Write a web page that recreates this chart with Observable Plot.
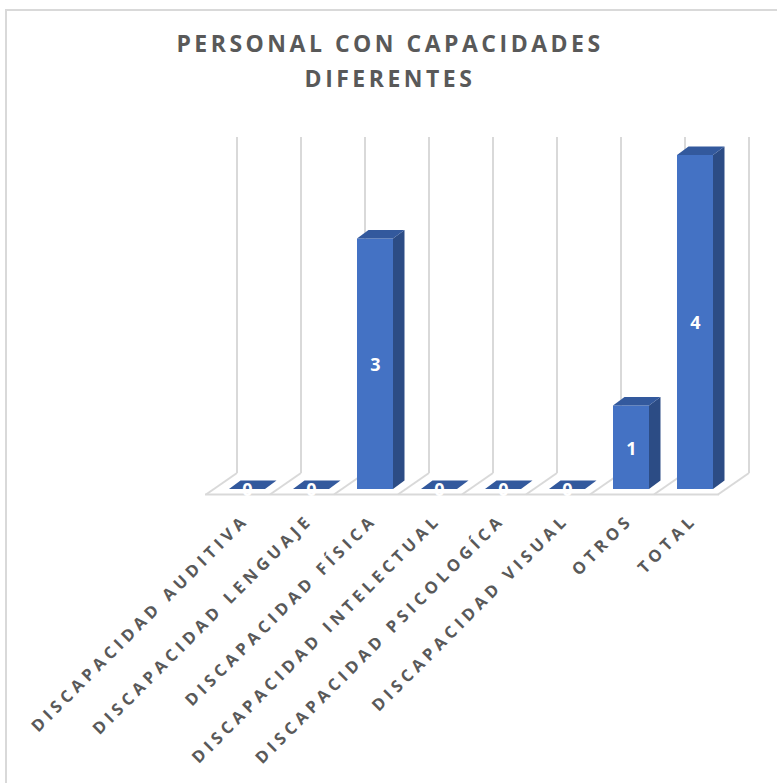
<!DOCTYPE html>
<html>
<head>
<meta charset="utf-8">
<script src="https://cdn.jsdelivr.net/npm/d3@7"></script>
<script src="https://cdn.jsdelivr.net/npm/@observablehq/plot@0.6"></script>
<style>
  html, body { margin: 0; padding: 0; background: #fff; overflow: hidden; }
  #wrap { position: relative; width: 777px; height: 783px; overflow: hidden; }
  #border { position: absolute; left: 5px; top: 9px; width: 900px; height: 900px;
            border-left: 2px solid #d9d9d9; border-top: 2px solid #d9d9d9; }
  #title { position: absolute; left: 0; top: 26px; width: 777px; text-align: center;
           font-family: "Open Sans", sans-serif; font-weight: 700; font-size: 23px;
           line-height: 35px; letter-spacing: 3.5px; color: #595959; padding-left: 3px; box-sizing: border-box; }
  #chart { position: absolute; left: 0; top: 0; }
  #chart g[aria-label="x-axis tick label"] text {
    letter-spacing: 4.5px !important; font-size: 16.5px !important; font-weight: 700 !important;
    font-family: "Open Sans", sans-serif !important; fill: #595959;
  }
</style>
</head>
<body>
<div id="wrap">
  <div id="border"></div>
  <div id="chart"></div>
  <div id="title">PERSONAL CON CAPACIDADES<br>DIFERENTES</div>
</div>
<script>
const titleLines = ["PERSONAL CON CAPACIDADES", "DIFERENTES"];
const categories = [
  "DISCAPACIDAD AUDITIVA",
  "DISCAPACIDAD LENGUAJE",
  "DISCAPACIDAD FÍSICA",
  "DISCAPACIDAD INTELECTUAL",
  "DISCAPACIDAD PSICOLOGÍCA",
  "DISCAPACIDAD VISUAL",
  "OTROS",
  "TOTAL"
];
const values = [0, 0, 3, 0, 0, 0, 1, 4];
const data = categories.map((c, i) => ({category: c, value: values[i]}));

const FRONT = "#4472C4", SIDE = "#2C4C85", TOP = "#33599D", GRID = "#D9D9D9", TEXT = "#595959";
const BAR = {dx: 11.5, dy: -8.5};
const FLOOR = {fx: -9, fy: 5.5, bx: 22, by: -16};
const yMax = d3.max(values);

function floorAndWalls() {
  return Plot.barY(data, {
    x: "category", y: "value",
    render(index, scales) {
      const x = scales.x, y = scales.y;
      const step = x.step(), bw = x.bandwidth();
      const n = categories.length;
      const left = x(categories[0]) - (step - bw) / 2;
      const right = left + n * step;
      const y0 = y(0), yt = y(yMax);
      const g = d3.create("svg:g").attr("stroke", GRID).attr("stroke-width", 2).attr("fill", "none");
      for (let k = 0; k <= n; k++) {
        const xb = left + k * step;
        g.append("line")
          .attr("x1", xb + FLOOR.bx).attr("y1", y0 + FLOOR.by)
          .attr("x2", xb + FLOOR.bx).attr("y2", yt + FLOOR.by - 2);
        g.append("line")
          .attr("x1", xb + FLOOR.fx).attr("y1", y0 + FLOOR.fy)
          .attr("x2", xb + FLOOR.bx).attr("y2", y0 + FLOOR.by);
      }
      g.append("line")
        .attr("x1", left + FLOOR.fx - 1).attr("y1", y0 + FLOOR.fy)
        .attr("x2", right + FLOOR.fx + 1).attr("y2", y0 + FLOOR.fy);
      return g.node();
    }
  });
}

function bars3d() {
  return Plot.barY(data, {
    x: "category", y: "value",
    render(index, scales) {
      const x = scales.x, y = scales.y;
      const bw = x.bandwidth();
      const g = d3.create("svg:g");
      for (const i of index) {
        const x0 = x(data[i].category), x1 = x0 + bw;
        const yt = y(data[i].value), yb = y(0);
        const {dx, dy} = BAR;
        if (data[i].value > 0) {
          g.append("rect").attr("x", x0).attr("y", yt).attr("width", bw).attr("height", yb - yt).attr("fill", FRONT);
          g.append("path").attr("fill", SIDE)
            .attr("d", `M${x1},${yt}L${x1 + dx},${yt + dy}L${x1 + dx},${yb + dy}L${x1},${yb}Z`);
        }
        g.append("path").attr("fill", TOP)
          .attr("d", `M${x0},${yt}L${x1},${yt}L${x1 + dx},${yt + dy}L${x0 + dx},${yt + dy}Z`);
      }
      return g.node();
    }
  });
}

const chart = Plot.plot({
  width: 777,
  height: 783,
  marginLeft: 215,
  marginRight: 50,
  marginTop: 155,
  marginBottom: 294,
  style: {fontFamily: "'Open Sans', sans-serif", background: "transparent", overflow: "visible"},
  x: {domain: categories, paddingInner: 0.445, paddingOuter: 0.2225, axis: null},
  y: {domain: [0, yMax], axis: null},
  marks: [
    floorAndWalls(),
    bars3d(),
    Plot.text(data, {
      x: "category", y: d => d.value / 2, text: d => String(d.value),
      fill: "white", fontSize: 18, fontWeight: 700, dy: 1
    }),
    Plot.axisX({
      tickRotate: -45, tickSize: 0, tickPadding: 30, fontSize: 16.5, fontWeight: 700,
      fill: TEXT, label: null, dx: -1.2, dy: -2.2
    })
  ]
});
document.getElementById("chart").appendChild(chart);
</script>
</body>
</html>
